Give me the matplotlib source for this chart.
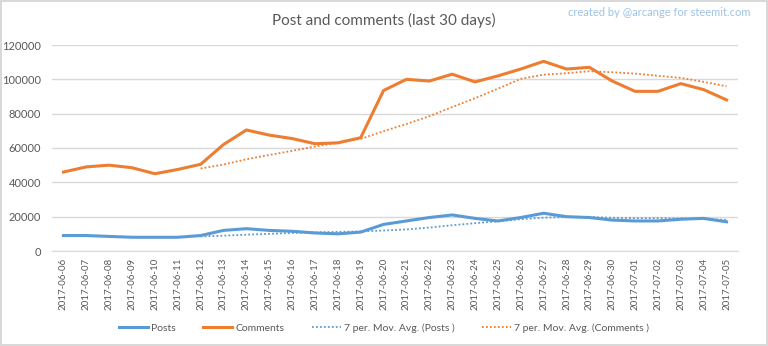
import numpy as np
import pandas as pd
import matplotlib
matplotlib.use("Agg")
import matplotlib.pyplot as plt

plt.rcParams["font.family"] = ["Lato", "DejaVu Sans"]

dates = pd.date_range("2017-06-06", "2017-07-05").strftime("%Y-%m-%d").tolist()

posts = [9000, 9000, 8500, 8000, 8000, 8000, 9000, 12000, 13000, 12000,
         11500, 10500, 10000, 11000, 15500, 17500, 19500, 21000, 19000, 17500,
         19500, 22000, 20000, 19500, 18000, 17500, 17500, 18500, 19000, 17000]
comments = [46000, 49000, 50000, 48500, 45000, 47500, 50500, 62000, 70500, 67500,
            65500, 62500, 63000, 66000, 93500, 100000, 99000, 103000, 98500, 102000,
            106000, 110500, 106000, 107000, 99000, 93000, 93000, 97500, 94000, 88000]

blue = "#5B9BD5"
orange = "#ED7D31"
grey = "#595959"

# Excel style trendline: 7 period moving average
posts_ma = pd.Series(posts).rolling(7).mean()
comments_ma = pd.Series(comments).rolling(7).mean()

fig = plt.figure(figsize=(7.68, 3.46), dpi=100)
fig.patch.set_edgecolor("#d9d9d9")
fig.patch.set_linewidth(1.5)
ax = fig.add_axes([52 / 768, 1 - 251 / 346, 686 / 768, 206 / 346])

x = np.arange(len(dates))
ax.plot(x, posts, color=blue, lw=2.2, label="Posts", solid_joinstyle="round")
ax.plot(x, comments, color=orange, lw=2.2, label="Comments", solid_joinstyle="round")
ax.plot(x, posts_ma, color=blue, lw=1.3, ls=(0, (1, 1.2)), label="7 per. Mov. Avg. (Posts )")
ax.plot(x, comments_ma, color=orange, lw=1.3, ls=(0, (1, 1.2)), label="7 per. Mov. Avg. (Comments )")

ax.set_xlim(-0.5, len(dates) - 0.5)
ax.set_ylim(0, 120000)
ax.set_yticks(np.arange(0, 120001, 20000))
ax.set_xticks(x)
ax.set_xticklabels(dates, rotation=90, fontsize=7, color=grey)
ax.tick_params(axis="y", labelsize=8, colors=grey, length=0, pad=8)
ax.tick_params(axis="x", length=0, pad=5)
ax.grid(axis="y", color="#d9d9d9", lw=1)
ax.set_axisbelow(True)
for s in ["top", "right", "left"]:
    ax.spines[s].set_visible(False)
ax.spines["bottom"].set_color("#d9d9d9")

fig.text(0.5, 1 - 20 / 346, "Post and comments (last 30 days)", ha="center", va="center",
         fontsize=11, color=grey)
fig.text(750 / 768, 1 - 13 / 346, "created by @arcange for steemit.com", ha="right", va="center",
         fontsize=8, color="#9DC3E6")

fig.legend(loc="center", bbox_to_anchor=(0.5, 1 - 328 / 346), ncol=4, frameon=False,
           fontsize=7.5, labelcolor=grey, handlelength=2.8, handletextpad=0.3,
           columnspacing=2.6)

fig.savefig("out.png", dpi=100)
